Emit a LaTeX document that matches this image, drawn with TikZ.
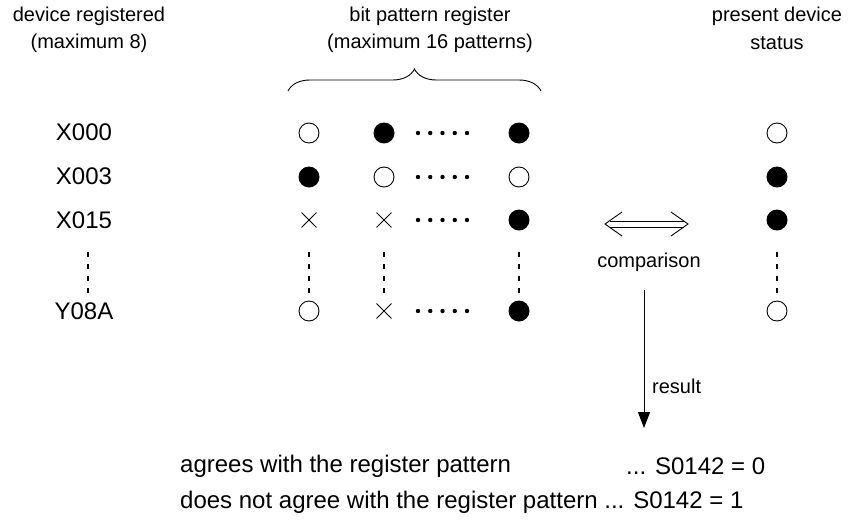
\documentclass[tikz,border=0pt]{standalone}
\usepackage{fontspec}
\setmainfont{Liberation Sans}
\usetikzlibrary{arrows.meta, decorations.pathreplacing, shapes.misc}

\tikzset{
  txt/.style={inner sep=0pt, font=\fontsize{20}{24}\selectfont},
  bigtxt/.style={inner sep=0pt, font=\fontsize{24}{28}\selectfont},
  opendot/.style={circle, draw=black, line width=0.9pt, fill=white, inner sep=0pt, minimum size=20pt},
  fulldot/.style={circle, fill=black, inner sep=0pt, minimum size=21pt},
  crossmark/.style={cross out, draw=black, line width=0.9pt, inner sep=0pt, minimum size=14pt},
  vdots/.style={line width=2.8pt, dash pattern=on 5pt off 7pt},
}

\begin{document}
\begin{tikzpicture}[x=1pt,y=-1pt]
\useasboundingbox (0,0) rectangle (849,523);
% headings
\node[txt] (hdev1) at (89,16) {device registered};
\node[txt] (hdev2) at (89,43) {(maximum 8)};
\node[txt] (hbit1) at (430,16) {bit pattern register};
\node[txt] (hbit2) at (430,43) {(maximum 16 patterns)};
\node[txt] (hsta1) at (777,16) {present device};
\node[txt] (hsta2) at (777,43) {status};
\draw[line width=0.9pt, decorate, decoration={brace, amplitude=22pt}] (288,91) -- (541,91);
% device names
\node[bigtxt] (d1) at (84,132) {X000};
\node[bigtxt] (d2) at (84,176) {X003};
\node[bigtxt] (d3) at (84,220) {X015};
\node[bigtxt] (d5) at (84,311) {Y08A};
% register patterns
\node[opendot] (p11) at (309,133) {};
\node[fulldot] (p12) at (384,133) {};
\node[fulldot] (p13) at (519,133) {};
\node[fulldot] (p21) at (309,177) {};
\node[opendot] (p22) at (384,177) {};
\node[opendot] (p23) at (519,177) {};
\node[crossmark] (p31) at (309,220) {};
\node[crossmark] (p32) at (384,220) {};
\node[fulldot] (p33) at (519,220) {};
\node[opendot] (p51) at (309,311) {};
\node[crossmark] (p52) at (384,311) {};
\node[fulldot] (p53) at (519,311) {};
% present status
\node[opendot] (s1) at (777,133) {};
\node[fulldot] (s2) at (777,177) {};
\node[fulldot] (s3) at (777,220) {};
\node[opendot] (s5) at (777,311) {};
% dots
\foreach \y in {133,177,220,311}
  \foreach \x in {418,430.25,442.5,454.75,467}
    \fill (\x,\y) circle (2.2);
\foreach \x in {88,309,384,519,777}
  \draw[vdots] (\x,252) -- (\x,293);
% comparison
\coordinate (cl) at (605,224);
\coordinate (cr) at (688,224);
\draw[line width=0.9pt] ([xshift=4.5pt,yshift=3pt]cl) -- ([xshift=-4.5pt,yshift=3pt]cr);
\draw[line width=0.9pt] ([xshift=4.5pt,yshift=-3pt]cl) -- ([xshift=-4.5pt,yshift=-3pt]cr);
\draw[line width=0.9pt, line join=miter] ([xshift=17pt,yshift=12pt]cl) -- (cl) -- ([xshift=17pt,yshift=-12pt]cl);
\draw[line width=0.9pt, line join=miter] ([xshift=-17pt,yshift=12pt]cr) -- (cr) -- ([xshift=-17pt,yshift=-12pt]cr);
\node[txt] (cmp) at (649,262) {comparison};
\coordinate (rtop) at (644,290);
\coordinate (rbot) at (644,428);
\draw[line width=1pt, -{Triangle[length=16pt, width=12pt]}] (rtop) -- (rbot);
\node[txt, anchor=west] (res) at (652,386) {result};
% result lines
\node[bigtxt, anchor=west] (r1) at (180,466) {agrees with the register pattern};
\node[bigtxt, anchor=west] (r1v) at (626,466) {... S0142 = 0};
\node[bigtxt, anchor=west] (r2) at (180,502) {does not agree with the register pattern ... S0142 = 1};
\end{tikzpicture}
\end{document}
